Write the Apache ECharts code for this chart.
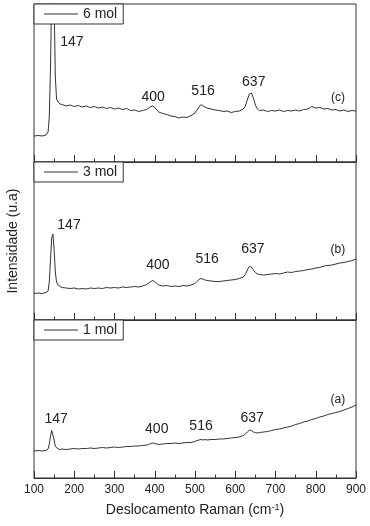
<!DOCTYPE html>
<html>
<head>
<meta charset="utf-8">
<script src="https://cdn.jsdelivr.net/npm/echarts@6/dist/echarts.min.js"></script>
<style>
  html, body { margin: 0; padding: 0; background: #fff; }
  #chart { width: 370px; height: 526px; }
</style>
</head>
<body>
<div id="chart"></div>
<script>
// Raman shift (cm-1), shared by the three spectra
const wavenumber = [100,110,120,130,135,138,141,144,147,150,153,156,160,165,170,180,190,200,210,220,
  230,240,250,260,270,280,290,300,310,320,330,340,350,360,370,380,385,390,395,400,
  405,410,420,430,440,450,460,470,480,490,500,505,510,515,520,525,530,540,550,560,
  570,580,590,600,610,620,625,630,635,640,645,650,655,660,670,680,690,700,710,720,
  730,740,750,760,770,780,790,800,810,820,830,840,850,860,870,880,890,900];

// intensities (arbitrary units, each panel 0..158)
const int6mol = [26,26.5,26,27,30,45,95,170,210,160,85,63,60,58,57.5,56,57,55.5,56.5,55,
  56,54.5,55.5,54,55,53.5,54.5,53,54,52.5,53.5,51.5,52,50.5,51.5,52.5,54,55.5,56,54.5,
  52,50,48.5,47.5,46,45.5,44,45,44.5,46.5,49,52,55,57.5,56,55,54,53,52,51.5,
  50.5,51,49.5,50.5,51,53,56,62,68,69,64,57,53,51.5,52,50.5,51.5,51,52,50.5,
  51.5,51,52,51,52.5,53,55.5,54,54.5,53,53.5,52,52.5,51,52,50.5,51.5,51];

const int3mol = [26.5,27,26.5,27.5,29,38,60,82,86,70,48,38,35,33.5,32.5,32,31.5,32,31,31.5,
  31,32,31.5,32,31.5,32.5,32,32.5,32,33,32.5,33,33.5,33,34,35.5,37,38.5,39.5,38.5,
  36.5,35,34,34.5,33.5,34,33.5,34.5,34,35,36.5,38.5,40.5,41.5,41,40,39.5,39,38.5,38.5,
  39,39.5,40,40.5,41.5,43,45.5,50,53.5,53,50,47.5,46,45.5,45,45.5,46,46.5,46,47,
  48,47.5,48.5,49,49.5,50.5,51,52,52.5,54,54.5,55,56,57,57.5,58.5,59.5,61];

const int1mol = [27,27.5,27,27.5,29,34,42,47.5,46,38,31.5,29.5,29,28.5,29,28.5,29,29.5,29,29.5,
  29.5,30,29.5,30,30.5,30,30.5,31,30.5,31,31.5,31.5,32,32,32.5,33,33.5,34.5,35,34.5,
  34,33.5,34,34.5,34.5,35,34.5,35,35.5,35.5,36.5,37.5,38,38.5,38,38.5,38,38.5,38.5,39,
  39,39.5,40,40.5,41,42.5,44,46,48,47.5,46,45.5,45,45.5,46,46.5,47.5,48.5,49,50,
  51,52,53.5,54.5,56,57,58.5,59.5,61,62,63.5,64.5,65.5,66.5,68,69.5,71,73];

const seriesNames = ['6 mol', '3 mol', '1 mol'];
const curveTags = ['(c)', '(b)', '(a)'];
const peakNames = ['147', '400', '516', '637'];
// label anchor points [shift, intensity] per panel
const peakLabelPos = [
  [[194, 120], [396, 65], [520, 71], [646, 80]],
  [[187, 95], [408, 55], [530, 61], [644, 71]],
  [[155, 59], [405, 49], [515, 52], [642, 60]]
];
const tagLabelPos = [[855, 64], [855, 70], [855, 78]];
const xTicks = [100, 200, 300, 400, 500, 600, 700, 800, 900];

const font = '"Liberation Sans", Arial, sans-serif';
const lineColor = '#333';
const panelTop = [4, 162, 320];
const panelH = 158;

const chart = echarts.init(document.getElementById('chart'));

function toPairs(vals) {
  return wavenumber.map((w, i) => [w, vals[i]]);
}

const spectra = [int6mol, int3mol, int1mol];

const grids = panelTop.map(t => ({
  left: 34, right: 14, top: t, height: panelH,
  outerBoundsMode: 'none', containLabel: false,
  show: true, borderColor: lineColor, borderWidth: 1, backgroundColor: 'transparent'
}));

const xAxes = panelTop.map((t, i) => ({
  type: 'value', gridIndex: i, min: xTicks[0], max: xTicks[xTicks.length - 1], interval: 100,
  axisLine: { show: true, lineStyle: { color: lineColor, width: 1 } },
  axisTick: { show: true, inside: true, length: 7, lineStyle: { color: lineColor } },
  minorTick: { show: true, splitNumber: 2, length: 3.5, lineStyle: { color: lineColor } },
  splitLine: { show: false },
  axisLabel: { show: i === 2, color: '#222', fontSize: 12, fontFamily: font, margin: 6 },
  name: i === 2 ? 'Deslocamento Raman (cm{sup|-1})' : '',
  nameLocation: 'middle', nameGap: 25,
  nameTextStyle: {
    color: '#222', fontSize: 14, fontFamily: font,
    rich: { sup: { fontSize: 9, verticalAlign: 'top', color: '#222', fontFamily: font, padding: [0, 0, 6, 0] } }
  }
}));

const yAxes = panelTop.map((t, i) => ({
  type: 'value', gridIndex: i, min: 0, max: panelH,
  axisLine: { show: false }, axisTick: { show: false }, axisLabel: { show: false },
  splitLine: { show: false },
  name: i === 1 ? 'Intensidade (u.a)' : '',
  nameLocation: 'middle', nameGap: 14,
  nameTextStyle: { color: '#222', fontSize: 14, fontFamily: font }
}));

const series = spectra.map((vals, i) => {
  const marks = peakNames.map((n, k) => ({
    name: n, coord: peakLabelPos[i][k],
    label: { fontSize: 14 }
  }));
  marks.push({ name: curveTags[i], coord: tagLabelPos[i], label: { fontSize: 12 } });
  return {
    name: seriesNames[i], type: 'line', xAxisIndex: i, yAxisIndex: i,
    data: toPairs(vals), symbol: 'none', clip: true, silent: true,
    lineStyle: { color: lineColor, width: 1 },
    itemStyle: { color: lineColor },
    markPoint: {
      symbol: 'circle', symbolSize: 0, silent: true,
      label: { show: true, position: 'inside', color: '#222', fontFamily: font, formatter: p => p.name },
      data: marks
    }
  };
});

const legends = panelTop.map((t, i) => ({
  data: [seriesNames[i]], left: 34, top: t,
  icon: 'rect', itemWidth: 34, itemHeight: 1, itemGap: 5,
  padding: [3, 6, 3, 10],
  backgroundColor: '#fff', borderColor: lineColor, borderWidth: 1, borderRadius: 0,
  textStyle: { color: '#222', fontSize: 14, fontFamily: font },
  selectedMode: false
}));

chart.setOption({
  animation: false,
  backgroundColor: '#fff',
  grid: grids,
  xAxis: xAxes,
  yAxis: yAxes,
  legend: legends,
  series: series
});
</script>
</body>
</html>
